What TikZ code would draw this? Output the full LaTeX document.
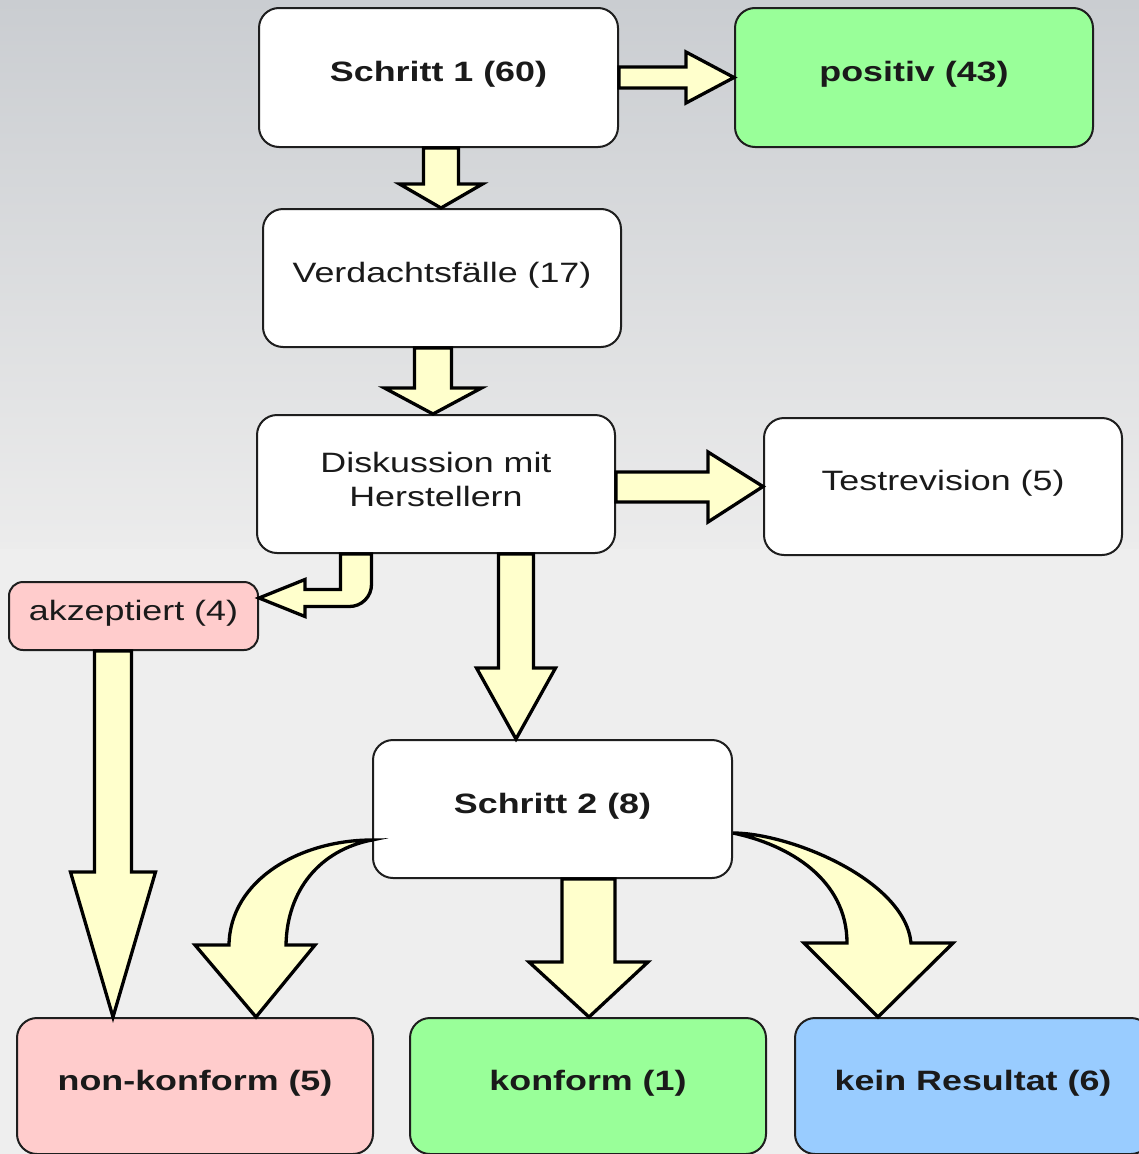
\documentclass[tikz,border=0pt]{standalone}
\usepackage{fontspec}
\usepackage{graphicx}
\setmainfont{Liberation Sans}
\usetikzlibrary{calc}
\definecolor{arrowfill}{HTML}{FFFFCC}
\definecolor{boxline}{HTML}{1E1E1E}
\definecolor{textcol}{HTML}{1A1A1A}
\definecolor{okgreen}{HTML}{99FF99}
\definecolor{badpink}{HTML}{FFCCCC}
\definecolor{noblue}{HTML}{99CCFF}
\definecolor{bgtop}{RGB}{202,205,209}
\definecolor{bgmid}{RGB}{236,236,236}
\definecolor{bgbot}{RGB}{238,238,238}
\newcommand\stretchtxt[1]{\raisebox{3pt}[\height][\depth]{\scalebox{1.28}[1]{#1}}}
\begin{document}
\begin{tikzpicture}[x=1pt,y=-1pt,
  box/.style={draw=boxline, line width=2pt, rounded corners=20pt, fill=white,
    minimum width=358pt, minimum height=138pt, inner sep=0pt, text=textcol,
    font=\fontsize{28}{34}\selectfont, align=center},
  boldbox/.style={box, font=\fontsize{28}{34}\selectfont\bfseries},
  barrow/.style={draw=black, line width=3.3pt, fill=arrowfill, line join=miter}]
\useasboundingbox (0,0) rectangle (1139,1154);
\clip (0,0) rectangle (1139,1154);
\fill[top color=bgtop, bottom color=bgmid] (0,0) rectangle (1139,550);
\fill[bgbot] (0,549) rectangle (1139,1154);

% boxes
\node[boldbox, minimum width=359pt, minimum height=139pt] (s1) at (438.5,77.5) {\stretchtxt{Schritt 1 (60)}};
\node[boldbox, fill=okgreen, minimum height=139pt] (pos) at (914,77.5) {\stretchtxt{positiv (43)}};
\node[box] (verd) at (442,278) {\stretchtxt{Verdachtsfälle (17)}};
\node[box] (disk) at (436,484) {\raisebox{2pt}[\height][\depth]{\stretchtxt{Diskussion mit}}\\\raisebox{2pt}[\height][\depth]{\stretchtxt{Herstellern}}};
\node[box, minimum height=137pt] (test) at (943,486.5) {\stretchtxt{Testrevision (5)}};
\node[box, fill=badpink, rounded corners=14pt, minimum width=249pt, minimum height=68pt] (akz) at (133.5,616) {\stretchtxt{akzeptiert (4)}};
\node[boldbox, minimum width=359pt] (s2) at (552.5,809) {\stretchtxt{Schritt 2 (8)}};
\node[boldbox, fill=badpink, minimum width=356pt, minimum height=136pt] (nk) at (195,1086) {\stretchtxt{non-konform (5)}};
\node[boldbox, fill=okgreen, minimum width=356pt, minimum height=136pt] (konf) at (588,1086) {\stretchtxt{konform (1)}};
\node[boldbox, fill=noblue, minimum width=356pt, minimum height=136pt] (kein) at (973,1086) {\stretchtxt{kein Resultat (6)}};

% Schritt 1 -> positiv
\draw[barrow] ($(s1.east)+(0,-10.5)$) -- (686,67) -- (686,52) -- (pos.west)
  -- (686,103) -- (686,88) -- ($(s1.east)+(0,10.5)$) -- cycle;
% Schritt 1 -> Verdachtsfaelle
\draw[barrow] (423.5,0 |- s1.south) -- (423.5,184) -- (399.5,184) -- (441,0 |- verd.north)
  -- (482.5,184) -- (458.5,184) -- (458.5,0 |- s1.south) -- cycle;
% Verdachtsfaelle -> Diskussion
\draw[barrow] (414.5,0 |- verd.south) -- (414.5,388) -- (384.5,388) -- (433,0 |- disk.north)
  -- (481.5,388) -- (451.5,388) -- (451.5,0 |- verd.south) -- cycle;
% Diskussion -> Testrevision
\draw[barrow] (disk.east |- 0,472) -- (708,472) -- (708,452) -- (test.west)
  -- (708,522) -- (708,502) -- (disk.east |- 0,502) -- cycle;
% Diskussion -> akzeptiert (bent)
\draw[barrow] (340.5,0 |- disk.south) -- (340.5,589.5) -- (305,589.5) -- (305,579.5)
  -- (akz.east |- 0,598) -- (305,616.5) -- (305,606.5) -- (349.5,606.5)
  arc[start angle=90, end angle=0, radius=22] -- (371.5,0 |- disk.south) -- cycle;
% akzeptiert -> non-konform
\draw[barrow] (94.5,0 |- akz.south) -- (94.5,872) -- (70.5,872) -- (113,0 |- nk.north)
  -- (155.5,872) -- (131.5,872) -- (131.5,0 |- akz.south) -- cycle;
% Diskussion -> Schritt 2
\draw[barrow] (498.5,0 |- disk.south) -- (498.5,668) -- (476.5,668) -- (516,0 |- s2.north)
  -- (555.5,668) -- (533.5,668) -- (533.5,0 |- disk.south) -- cycle;
% Schritt 2 -> konform
\draw[barrow] (562,0 |- s2.south) -- (562,962) -- (529,962) -- (589,0 |- konf.north)
  -- (648,962) -- (615,962) -- (615,0 |- s2.south) -- cycle;
% Schritt 2 -> kein Resultat (curved)
\draw[barrow] (s2.east |- 0,833) .. controls (790,833) and (905,880) .. (911,943)
  -- (953,943) -- (878,0 |- kein.north) -- (804,943) -- (847,943)
  .. controls (847,880) and (790,845) .. (s2.east |- 0,833) -- cycle;
% Schritt 2 -> non-konform (curved)
\draw[barrow] (s2.west |- 0,840) .. controls (300,840) and (230,880) .. (229,945)
  -- (195,945) -- (256,0 |- nk.north) -- (315,945) -- (286,945)
  .. controls (287,890) and (320,850) .. (s2.west |- 0,840) -- cycle;
\end{tikzpicture}
\end{document}
